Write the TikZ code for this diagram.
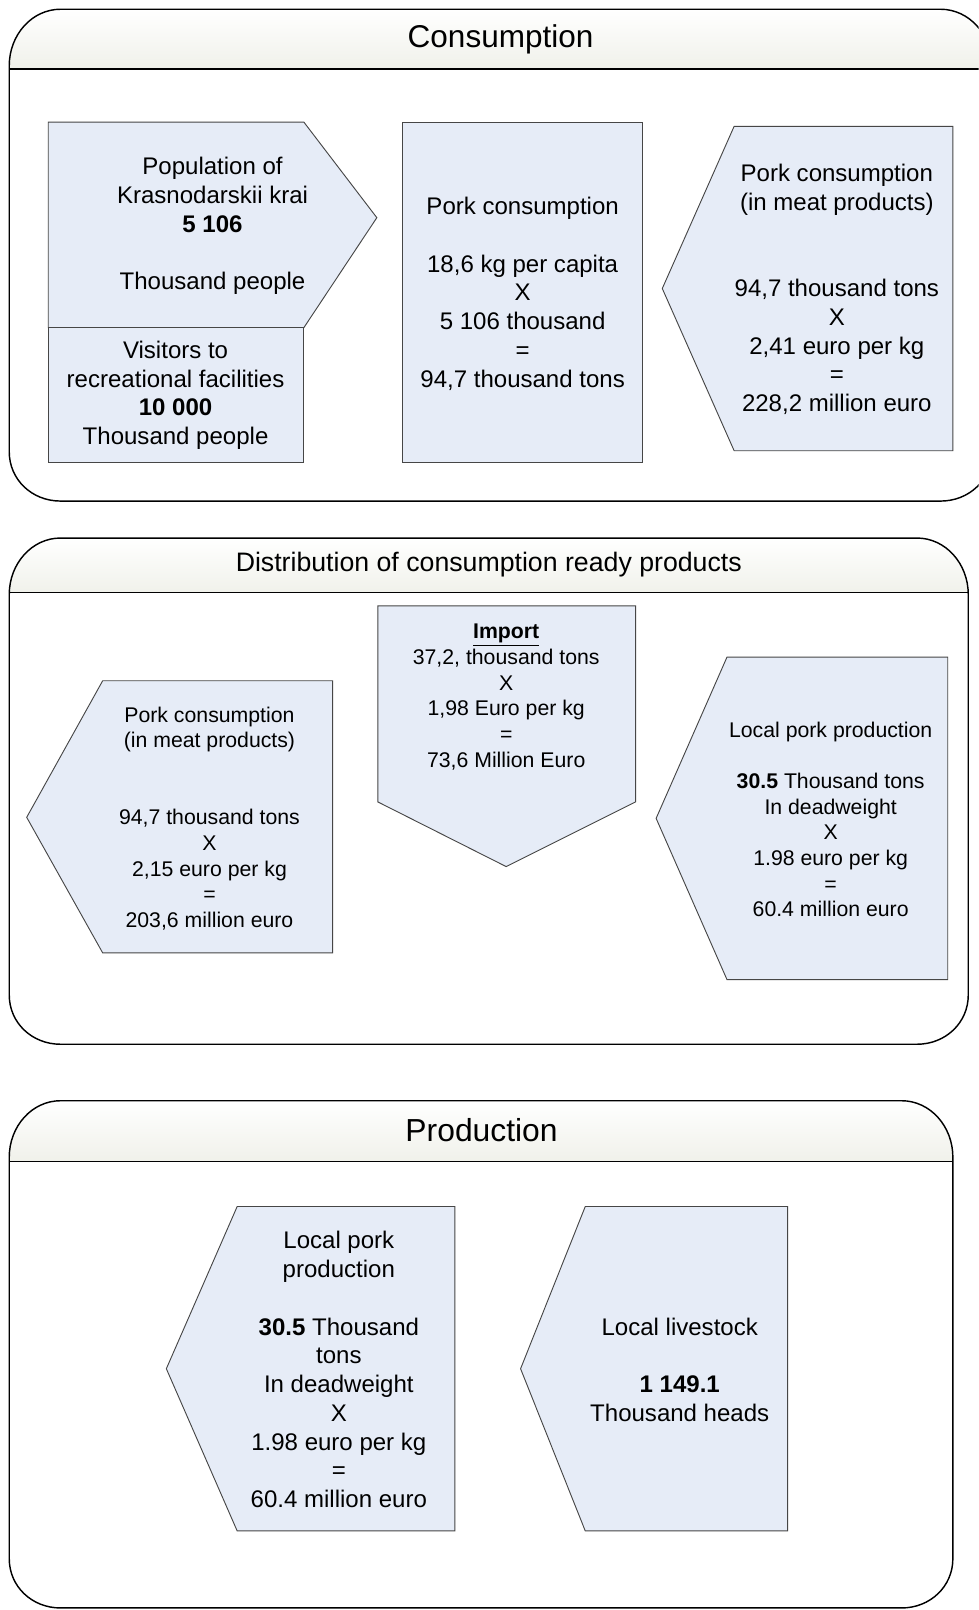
\documentclass[tikz,border=0pt]{standalone}
\usepackage{fontspec}
\setmainfont{Liberation Sans}
\definecolor{boxblue}{RGB}{230,236,247}
\definecolor{headbot}{RGB}{240,241,234}
\definecolor{boxline}{RGB}{70,70,70}

% panel with elliptical corners: x1, y1 (top), x2, y2 (bottom), header line y
\newcommand\drawpanel[5]{%
  \fill[white] (#1,#5) -- (#1,#4-48) .. controls (#1,#4-21) and (#1+22,#4) .. (#1+50,#4)
    -- (#3-50,#4) .. controls (#3-22,#4) and (#3,#4-21) .. (#3,#4-48) -- (#3,#5) -- cycle;
  \shade[top color=white, bottom color=headbot]
    (#1,#5) -- (#1,#2+55) .. controls (#1,#2+25) and (#1+22,#2) .. (#1+50,#2)
    -- (#3-50,#2) .. controls (#3-22,#2) and (#3,#2+25) .. (#3,#2+55) -- (#3,#5) -- cycle;
  \draw[panel] (#1,#5) -- (#1,#4-48) .. controls (#1,#4-21) and (#1+22,#4) .. (#1+50,#4)
    -- (#3-50,#4) .. controls (#3-22,#4) and (#3,#4-21) .. (#3,#4-48)
    -- (#3,#2+55) .. controls (#3,#2+25) and (#3-22,#2) .. (#3-50,#2)
    -- (#1+50,#2) .. controls (#1+22,#2) and (#1,#2+25) .. (#1,#2+55) -- cycle;
  \draw[panel] (#1,#5) -- (#3,#5);
}

\begin{document}
\begin{tikzpicture}[x=1pt,y=-1pt,
  panel/.style={draw=black, line width=1.4pt},
  shapebox/.style={fill=boxblue, draw=boxline, line width=0.9pt},
  bigtxt/.style={align=center, inner sep=0pt, font=\fontsize{23.4}{28}\selectfont},
  smalltxt/.style={align=center, inner sep=0pt, font=\fontsize{20.7}{25}\selectfont},
]
\clip (0,0) rectangle (953,1568);

% ---------------- Consumption ----------------
\drawpanel{9}{9}{966}{488}{67}
\node[font=\fontsize{30.7}{36}\selectfont] (t1) at (487.5,38) {Consumption};

\draw[shapebox] (47,119) -- (296,119) -- (367,212) -- (296,319) -- (47,319) -- cycle;
\draw[shapebox] (47,319) rectangle (296,450);
\draw[shapebox] (392,119) rectangle (626,450);
\draw[shapebox] (715,123) -- (928,123) -- (928,439) -- (715,439) -- (645,281) -- cycle;

\node[bigtxt] (pop) at (207,220)
  {Population of\\Krasnodarskii krai\\\textbf{5 106}\\[28pt]Thousand people};
\node[bigtxt] (visit) at (171,385)
  {Visitors to\\recreational facilities\\\textbf{10 000}\\Thousand people};
\node[bigtxt] (pcons) at (509,286)
  {Pork consumption\\[28pt]18,6 kg per capita\\X\\5 106 thousand\\=\\94,7 thousand tons};
\node[bigtxt] (meat1) at (815,282)
  {Pork consumption\\(in meat products)\\[56pt]94,7 thousand tons\\X\\2,41 euro per kg\\=\\228,2 million euro};

% ---------------- Distribution ----------------
\drawpanel{9}{524}{943}{1017}{577}
\node[font=\fontsize{26}{31}\selectfont] (t2) at (476,550) {Distribution of consumption ready products};

\draw[shapebox] (100,663) -- (324,663) -- (324,928) -- (100,928) -- (26,796) -- cycle;
\draw[shapebox] (368,590) -- (619,590) -- (619,781) -- (493,844) -- (368,781) -- cycle;
\draw[shapebox] (708,640) -- (923,640) -- (923,954) -- (708,954) -- (639,797) -- cycle;

\node[smalltxt] (meat2) at (204,797)
  {Pork consumption\\(in meat products)\\[50pt]94,7 thousand tons\\X\\2,15 euro per kg\\=\\203,6 million euro};
\node[smalltxt] (import) at (493,679)
  {\underline{\textbf{Import}}\\37,2, thousand tons\\X\\1,98 Euro per kg\\=\\73,6 Million Euro};
\node[smalltxt] (local2) at (809,798)
  {Local pork production\\[25pt]\textbf{30.5} Thousand tons\\In deadweight\\X\\1.98 euro per kg\\=\\60.4 million euro};

% ---------------- Production ----------------
\drawpanel{9}{1072}{928}{1566}{1131}
\node[font=\fontsize{31}{36}\selectfont] (t3) at (469,1101) {Production};

\draw[shapebox] (231,1175) -- (443,1175) -- (443,1491) -- (231,1491) -- (162,1333) -- cycle;
\draw[shapebox] (570,1175) -- (767,1175) -- (767,1491) -- (570,1491) -- (507,1333) -- cycle;

\node[bigtxt] (local3) at (330,1334)
  {Local pork\\production\\[28pt]\textbf{30.5} Thousand\\tons\\In deadweight\\X\\1.98 euro per kg\\=\\60.4 million euro};
\node[bigtxt] (stock) at (662,1334)
  {Local livestock\\[28pt]\textbf{1 149.1}\\Thousand heads};
\end{tikzpicture}
\end{document}
